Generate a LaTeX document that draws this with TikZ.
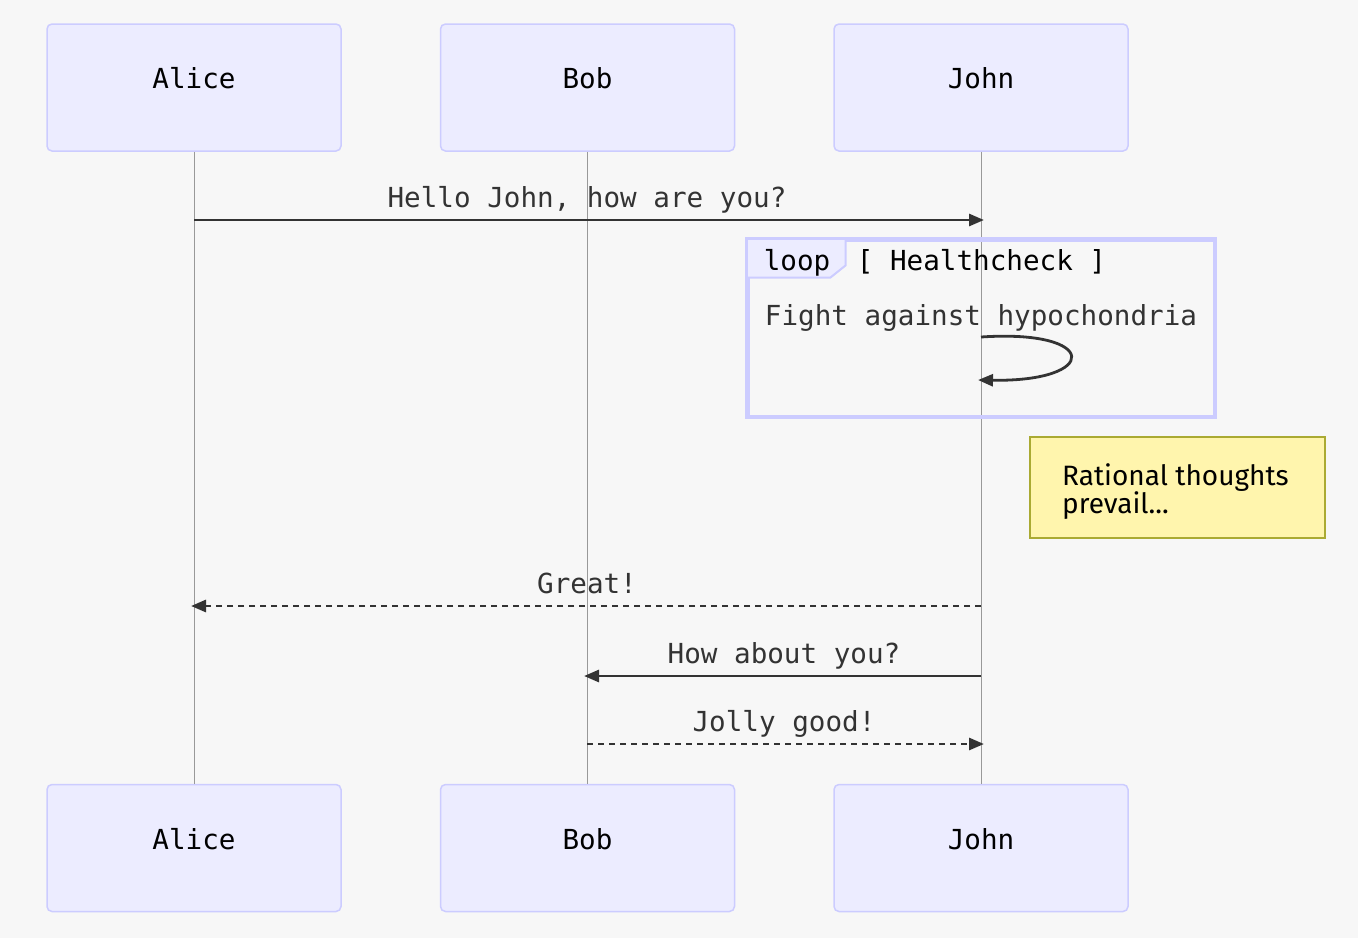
\documentclass[tikz,border=0pt]{standalone}
\usepackage{fontspec}
\newfontfamily\monof{DejaVu Sans Mono}
\newfontfamily\notef{Fira Sans}
\usetikzlibrary{arrows.meta}
\definecolor{bg}{HTML}{F7F7F7}
\definecolor{actfill}{HTML}{ECECFF}
\definecolor{actline}{HTML}{CCCCFF}
\definecolor{lifecol}{HTML}{999999}
\definecolor{msgcol}{HTML}{333333}
\definecolor{notefill}{HTML}{FFF5AD}
\definecolor{noteline}{HTML}{AAAA33}
\begin{document}
\begin{tikzpicture}[x=1pt,y=-1pt,
  actor/.style={draw=actline, fill=actfill, line width=1.5pt, rounded corners=5pt,
    minimum width=294pt, minimum height=127pt, inner sep=0pt},
  actlabel/.style={anchor=base, inner sep=0pt, text=black,
    font=\monof\fontsize{27.6}{33}\selectfont},
  msglabel/.style={anchor=base, inner sep=0pt, text=msgcol,
    font=\monof\fontsize{27.6}{33}\selectfont},
  lifeline/.style={draw=lifecol, line width=1pt},
  msgarrow/.style={draw=msgcol, line width=2.8pt, -{Triangle[length=15pt,width=12pt]}},
  dashedarrow/.style={msgarrow, dash pattern=on 6pt off 5pt},
  loopbox/.style={draw=actline, line width=3pt, minimum width=466pt, minimum height=176pt, inner sep=0pt},
  notebox/.style={draw=noteline, fill=notefill, line width=1.5pt, minimum width=295pt, minimum height=101pt, inner sep=0pt},
  notetext/.style={anchor=base west, inner sep=0pt, text=black,
    font=\notef\fontsize{28}{28}\selectfont}
]
\fill[bg] (0,0) rectangle (1358,938);
\useasboundingbox (0,0) rectangle (1358,938);

% actors
\node[actor] (a1) at (194,87.5) {};
\node[actor] (b1) at (587.5,87.5) {};
\node[actor] (j1) at (981,87.5) {};
\node[actor] (a2) at (194,848) {};
\node[actor] (b2) at (587.5,848) {};
\node[actor] (j2) at (981,848) {};
\node[actlabel] (ta1) at (194,88) {Alice};
\node[actlabel] (tb1) at (587.5,88) {Bob};
\node[actlabel] (tj1) at (981,88) {John};
\node[actlabel] (ta2) at (194,849) {Alice};
\node[actlabel] (tb2) at (587.5,849) {Bob};
\node[actlabel] (tj2) at (981,849) {John};

% lifelines
\draw[lifeline] (a1.south) -- (a2.north);
\draw[lifeline] (b1.south) -- (b2.north);
\draw[lifeline] (j1.south) -- (j2.north);

% message coordinates
\coordinate (m1a) at (194,220);
\coordinate (m1j) at (984,220);
\coordinate (m2j) at (981,606);
\coordinate (m2a) at (191,606);
\coordinate (m3j) at (981,676);
\coordinate (m3b) at (584,676);
\coordinate (m4b) at (587,744);
\coordinate (m4j) at (984,744);
\coordinate (sl1) at (981,337);
\coordinate (sl2) at (978,380);

% message 1
\draw[msgarrow] (m1a) -- (m1j);
\node[msglabel] (l1) at (587,207) {Hello John, how are you?};

% loop
\node[loopbox] (loop) at (981,328) {};
\draw[fill=actfill, draw=actline, line width=2pt]
  (loop.north west) -- ++(99,0) -- ++(0,27) -- ++(-15,12) -- ++(-84,0) -- cycle;
\draw[draw=actline, line width=3pt] (loop.north west) rectangle (loop.south east);
\node[actlabel] (lloop) at (797,270) {loop};
\node[actlabel] (lcond) at (981.5,270) {[ Healthcheck ]};
\node[msglabel] (lself) at (981,325) {Fight against hypochondria};
\draw[msgarrow] (sl1) .. controls (1100,329) and (1100,382) .. (sl2);

% note
\node[notebox] (note) at (1177.5,487.5) {};
\node[notetext] (tnote1) at (1062,485) {Rational thoughts};
\node[notetext] (tnote2) at (1062,513) {prevail...};

% replies
\draw[dashedarrow] (m2j) -- (m2a);
\node[msglabel] (l2) at (587,593) {Great!};
\draw[msgarrow] (m3j) -- (m3b);
\node[msglabel] (l3) at (784,663) {How about you?};
\draw[dashedarrow] (m4b) -- (m4j);
\node[msglabel] (l4) at (784,731) {Jolly good!};
\end{tikzpicture}
\end{document}
